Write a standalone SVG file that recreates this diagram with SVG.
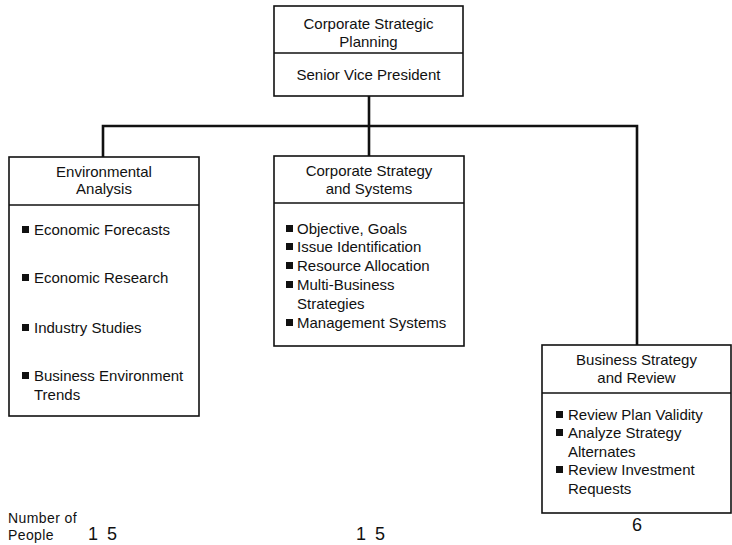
<svg xmlns="http://www.w3.org/2000/svg" width="732" height="545" viewBox="0 0 732 545">
  <style>
    .box { fill: #fff; stroke: #111; stroke-width: 1.6; }
    .div { stroke: #111; stroke-width: 1.4; }
    .wire { fill: none; stroke: #111; stroke-width: 2.6; }
    text { font-family: "Liberation Sans", Arial, sans-serif; font-size: 15px; fill: #111; }
    .c { text-anchor: middle; }
    .num { font-size: 18px; }
    .small { font-size: 14px; }
    .bul { fill: #111; }
  </style>
  <defs>
    <rect id="bullet" class="bul" x="0" y="-9" width="7" height="7"/>
  </defs>

  <!-- reporting lines -->
  <g id="connectors">
    <path class="wire" d="M369,96 V126"/>
    <path class="wire" d="M103,157 V126 H637 V345"/>
    <path class="wire" d="M369,126 V156"/>
  </g>

  <!-- head of planning -->
  <g id="planning">
    <rect class="box" x="274" y="6" width="189" height="90"/>
    <line class="div" x1="274" y1="53" x2="463" y2="53"/>
    <text class="c" x="368.5" y="29">Corporate Strategic</text>
    <text class="c" x="368.5" y="47">Planning</text>
    <text class="c" x="368.5" y="80">Senior Vice President</text>
  </g>

  <g id="environmental">
    <rect class="box" x="9" y="157" width="190" height="259"/>
    <line class="div" x1="9" y1="205" x2="199" y2="205"/>
    <text class="c" x="104" y="177">Environmental</text>
    <text class="c" x="104" y="194">Analysis</text>
    <use href="#bullet" x="22" y="235"/>
    <text x="34" y="235">Economic Forecasts</text>
    <use href="#bullet" x="22" y="283"/>
    <text x="34" y="283">Economic Research</text>
    <use href="#bullet" x="22" y="333"/>
    <text x="34" y="333">Industry Studies</text>
    <use href="#bullet" x="22" y="381"/>
    <text x="34" y="381">Business Environment</text>
    <text x="34" y="400">Trends</text>
  </g>

  <g id="corporate-strategy">
    <rect class="box" x="274" y="156" width="190" height="190"/>
    <line class="div" x1="274" y1="203" x2="464" y2="203"/>
    <text class="c" x="369" y="176">Corporate Strategy</text>
    <text class="c" x="369" y="194">and Systems</text>
    <use href="#bullet" x="286" y="234"/>
    <text x="297" y="234">Objective, Goals</text>
    <use href="#bullet" x="286" y="252"/>
    <text x="297" y="252">Issue Identification</text>
    <use href="#bullet" x="286" y="271"/>
    <text x="297" y="271">Resource Allocation</text>
    <use href="#bullet" x="286" y="290"/>
    <text x="297" y="290">Multi-Business</text>
    <text x="297" y="309">Strategies</text>
    <use href="#bullet" x="286" y="328"/>
    <text x="297" y="328">Management Systems</text>
  </g>

  <g id="business-strategy">
    <rect class="box" x="542" y="345" width="189" height="168"/>
    <line class="div" x1="542" y1="393" x2="731" y2="393"/>
    <text class="c" x="636.5" y="365">Business Strategy</text>
    <text class="c" x="636.5" y="383">and Review</text>
    <use href="#bullet" x="556" y="420"/>
    <text x="568" y="420">Review Plan Validity</text>
    <use href="#bullet" x="556" y="438"/>
    <text x="568" y="438">Analyze Strategy</text>
    <text x="568" y="457">Alternates</text>
    <use href="#bullet" x="556" y="475"/>
    <text x="568" y="475">Review Investment</text>
    <text x="568" y="494">Requests</text>
  </g>

  <!-- staffing counts -->
  <g id="headcount">
    <text class="small" x="8" y="523" letter-spacing="0.4">Number of</text>
    <text class="small" x="8" y="540" letter-spacing="0.4">People</text>
    <text class="num" x="88" y="540" letter-spacing="2">1 5</text>
    <text class="num" x="356" y="540" letter-spacing="2">1 5</text>
    <text class="num c" x="637" y="531" font-size="17">6</text>
  </g>
</svg>
